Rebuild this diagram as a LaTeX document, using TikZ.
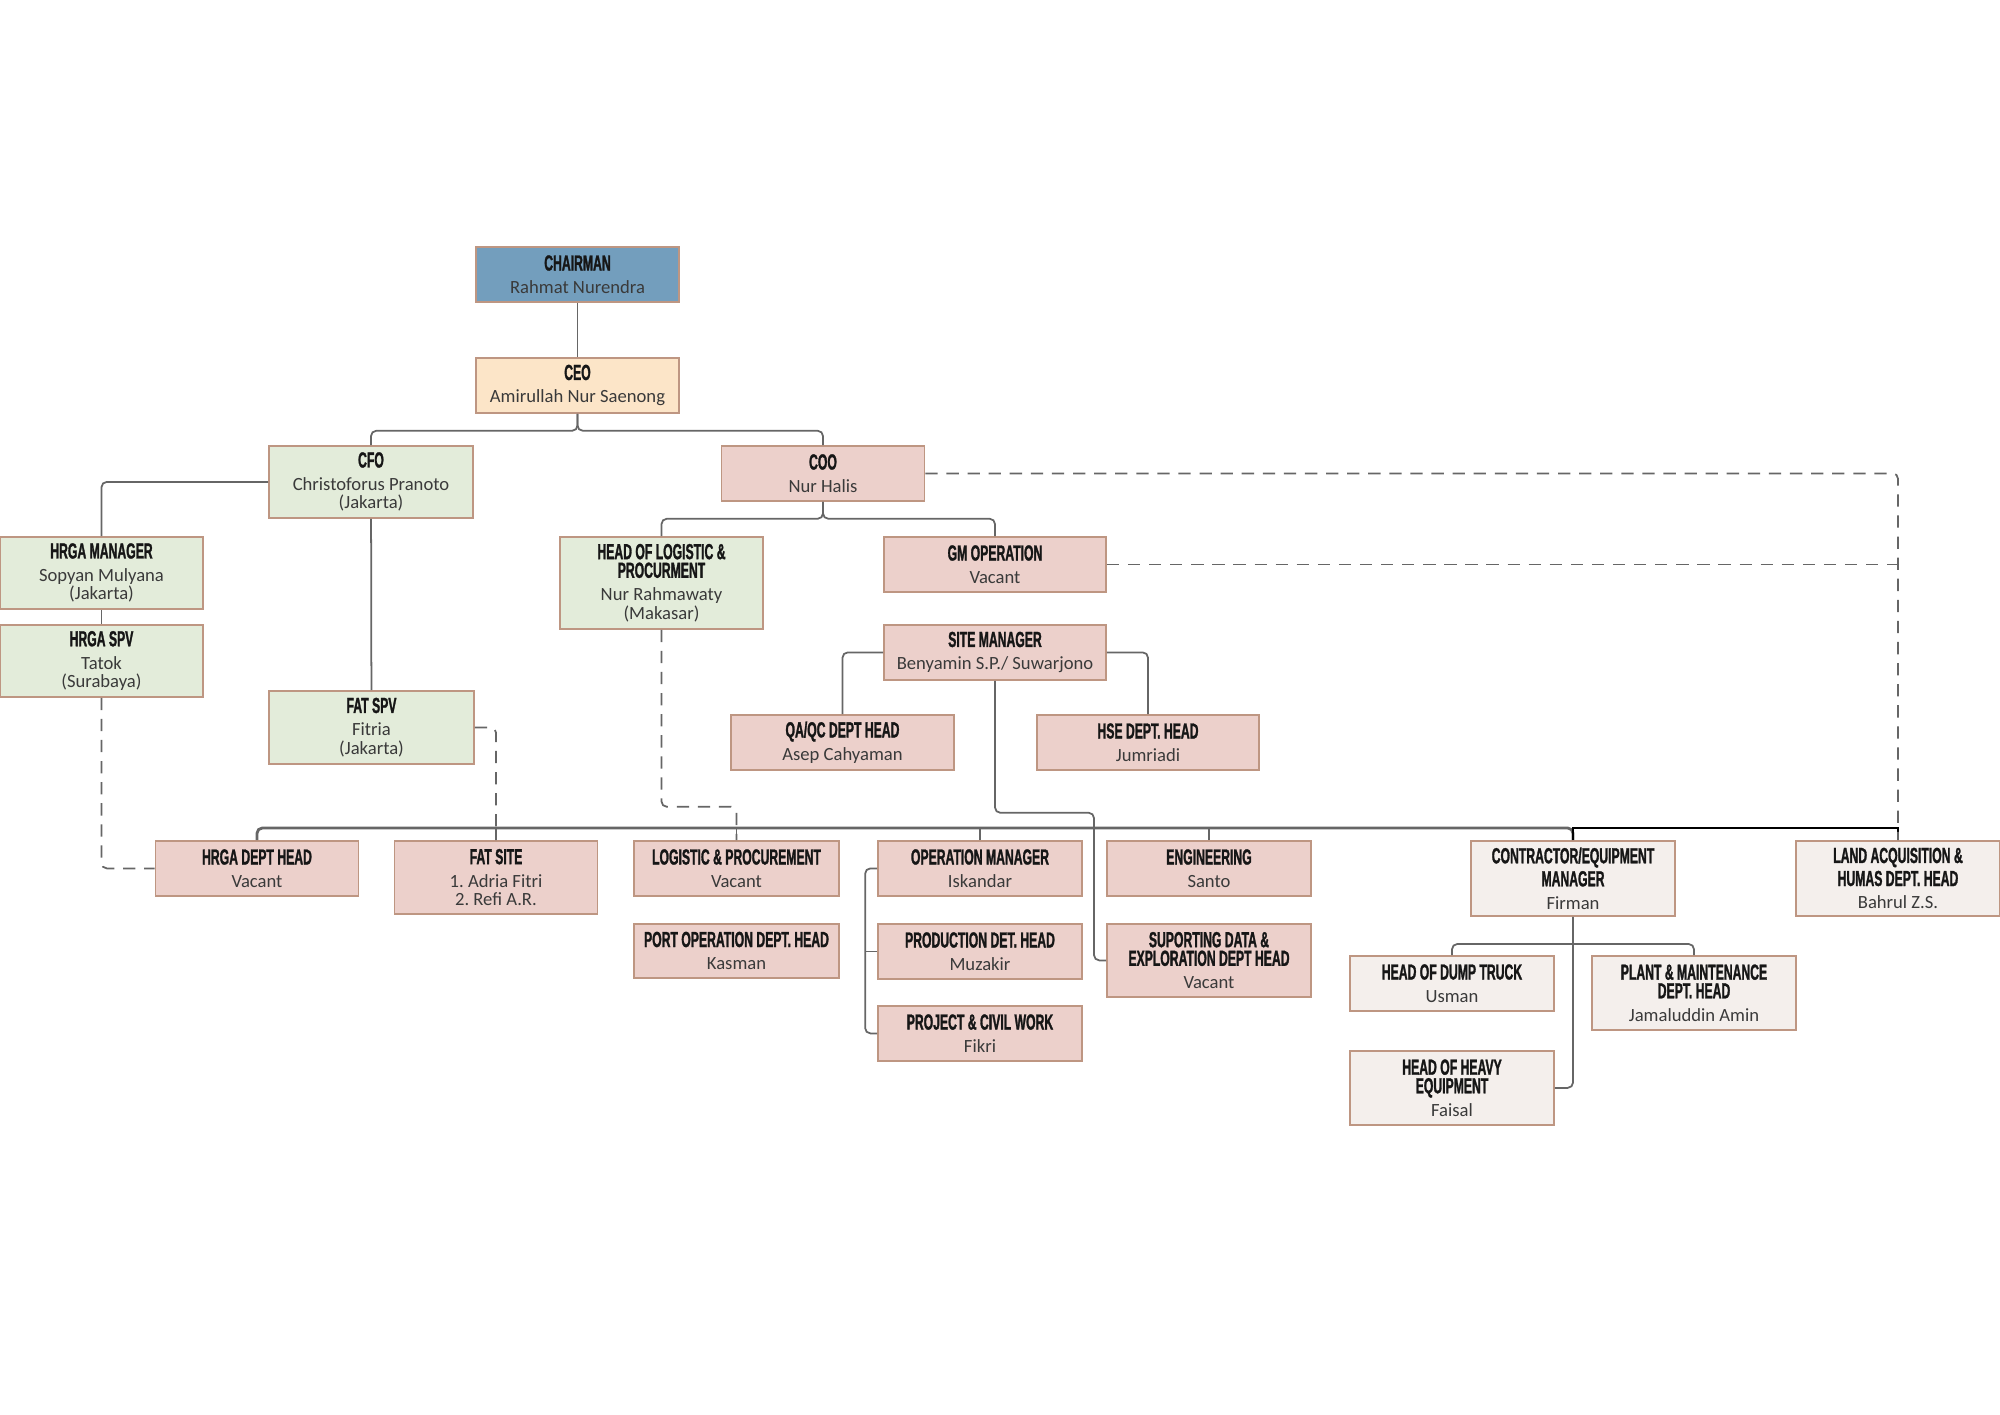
\documentclass[tikz,border=0pt]{standalone}
\usepackage{fontspec}
\setmainfont{Carlito}
\newfontfamily\headfont[FakeStretch=0.56, BoldFeatures={FakeBold=1.3}]{Liberation Sans}
\usetikzlibrary{calc}
\definecolor{chairblue}{HTML}{739EBD}
\definecolor{ceopeach}{HTML}{FCE5C8}
\definecolor{staffgreen}{HTML}{E3ECDA}
\definecolor{opspink}{HTML}{ECD0CB}
\definecolor{contrgrey}{HTML}{F4EFEC}
\definecolor{boxline}{HTML}{BE9682}
\definecolor{linegray}{HTML}{666666}
\definecolor{bodytext}{HTML}{3A3A3A}
\definecolor{titletext}{HTML}{161616}
\newcommand{\ttl}[1]{{\headfont\bfseries\fontsize{6.2}{5.4}\selectfont\color{titletext}#1}}

\begin{document}
\begin{tikzpicture}[
  every node/.style={draw=boxline, line width=0.5pt, align=center, anchor=north, inner sep=1.5pt,
    minimum width=2.03cm, minimum height=0.55cm, text=bodytext, font=\fontsize{5.3}{5.3}\selectfont},
  bluebox/.style={fill=chairblue},
  peachbox/.style={fill=ceopeach},
  greenbox/.style={fill=staffgreen},
  pinkbox/.style={fill=opspink},
  greybox/.style={fill=contrgrey},
  link/.style={draw=linegray, line width=0.5pt, rounded corners=1.5pt},
  dotlink/.style={link, dash pattern=on 3.5pt off 2.5pt},
  bus/.style={link, line width=0.8pt}
]
\useasboundingbox (0,0) rectangle (20,-14.14);

\node[bluebox] (chair) at (5.775,-2.46) {\ttl{CHAIRMAN}\\[1.2pt] Rahmat Nurendra};
\node[peachbox] (ceo) at (5.775,-3.57) {\ttl{CEO}\\[1.2pt] Amirullah Nur Saenong};

\node[greenbox, minimum width=2.04cm, minimum height=0.72cm] (cfo) at (3.71,-4.45) {\ttl{CFO}\\[1.2pt] Christoforus Pranoto\\(Jakarta)};
\node[pinkbox] (coo) at (8.23,-4.45) {\ttl{COO}\\[1.2pt] Nur Halis};

\node[greenbox, minimum height=0.72cm] (hrgam) at (1.015,-5.36) {\ttl{HRGA MANAGER}\\[1.2pt] Sopyan Mulyana\\(Jakarta)};
\node[greenbox, minimum height=0.72cm] (hrgas) at (1.015,-6.24) {\ttl{HRGA SPV}\\[1.2pt] Tatok\\(Surabaya)};
\node[greenbox, minimum width=2.05cm, minimum height=0.73cm] (fatspv) at (3.715,-6.90) {\ttl{FAT SPV}\\[1.2pt] Fitria\\(Jakarta)};
\node[greenbox, minimum height=0.92cm] (headlog) at (6.615,-5.36) {\ttl{HEAD OF LOGISTIC \&}\\\ttl{PROCURMENT}\\[1.2pt] Nur Rahmawaty\\(Makasar)};

\node[pinkbox, minimum width=2.22cm] (gmop) at (9.95,-5.36) {\ttl{GM OPERATION}\\[1.2pt] Vacant};
\node[pinkbox, minimum width=2.22cm] (sitem) at (9.95,-6.24) {\ttl{SITE MANAGER}\\[1.2pt] Benyamin S.P./ Suwarjono};
\node[pinkbox, minimum width=2.23cm] (qaqc) at (8.425,-7.14) {\ttl{QA/QC DEPT HEAD}\\[1.2pt] Asep Cahyaman};
\node[pinkbox, minimum width=2.22cm] (hse) at (11.48,-7.14) {\ttl{HSE DEPT. HEAD}\\[1.2pt] Jumriadi};

\node[pinkbox] (hrgadh) at (2.57,-8.40) {\ttl{HRGA DEPT HEAD}\\[1.2pt] Vacant};
\node[pinkbox, minimum height=0.73cm] (fatsite) at (4.96,-8.40) {\ttl{FAT SITE}\\[1.2pt] 1.\ Adria Fitri\\2.\ Refi A.R.};
\node[pinkbox, minimum width=2.05cm] (logist) at (7.365,-8.40) {\ttl{LOGISTIC \& PROCUREMENT}\\[1.2pt] Vacant};
\node[pinkbox, minimum width=2.05cm, minimum height=0.54cm] (portop) at (7.365,-9.23) {\ttl{PORT OPERATION DEPT. HEAD}\\[1.2pt] Kasman};
\node[pinkbox, minimum width=2.04cm] (opm) at (9.80,-8.40) {\ttl{OPERATION MANAGER}\\[1.2pt] Iskandar};
\node[pinkbox, minimum width=2.04cm] (prod) at (9.80,-9.23) {\ttl{PRODUCTION DET. HEAD}\\[1.2pt] Muzakir};
\node[pinkbox, minimum width=2.04cm] (proj) at (9.80,-10.05) {\ttl{PROJECT \& CIVIL WORK}\\[1.2pt] Fikri};
\node[pinkbox, minimum width=2.04cm] (eng) at (12.09,-8.40) {\ttl{ENGINEERING}\\[1.2pt] Santo};
\node[pinkbox, minimum width=2.04cm, minimum height=0.73cm] (sup) at (12.09,-9.23) {\ttl{SUPORTING DATA \&}\\\ttl{EXPLORATION DEPT HEAD}\\[1.2pt] Vacant};

\node[greybox, minimum width=2.04cm, minimum height=0.75cm] (contr) at (15.73,-8.40) {\ttl{CONTRACTOR/EQUIPMENT}\\\ttl{MANAGER}\\[1.2pt] Firman};
\node[greybox, minimum width=2.04cm, minimum height=0.75cm] (land) at (18.98,-8.40) {\ttl{LAND ACQUISITION \&}\\\ttl{HUMAS DEPT. HEAD}\\[1.2pt] Bahrul Z.S.};
\node[greybox, minimum width=2.04cm] (dump) at (14.52,-9.55) {\ttl{HEAD OF DUMP TRUCK}\\[1.2pt] Usman};
\node[greybox, minimum width=2.04cm, minimum height=0.74cm] (plant) at (16.94,-9.55) {\ttl{PLANT \& MAINTENANCE}\\\ttl{DEPT. HEAD}\\[1.2pt] Jamaluddin Amin};
\node[greybox, minimum width=2.04cm, minimum height=0.74cm] (heavy) at (14.52,-10.50) {\ttl{HEAD OF HEAVY}\\\ttl{EQUIPMENT}\\[1.2pt] Faisal};

\draw[link] (chair) -- (ceo);
\draw[link] (ceo.south) -- ++(0,-0.17) -| (cfo.north);
\draw[link] (ceo.south) -- ++(0,-0.17) -| (coo.north);
\draw[link] (cfo.west) -| (hrgam.north);
\draw[link] (hrgam) -- (hrgas);
\draw[link] (cfo) -- (fatspv);
\draw[link] (coo.south) -- ++(0,-0.17) -| (headlog.north);
\draw[link] (coo.south) -- ++(0,-0.17) -| (gmop.north);
\draw[link] (sitem.west) -| (qaqc.north);
\draw[link] (sitem.east) -| (hse.north);
\draw[link] (sitem.south) -- ++(0,-1.32) -- ++(0.99,0) |- (sup.west);

\draw[bus] (hrgadh.north) -- ++(0,0.12) -| (contr.north);
\draw[bus, draw=black, sharp corners] (contr.north) -- ++(0,0.12) -| (land.north);
\foreach \n in {fatsite,logist,opm,eng}
  \draw[link] (\n.north) -- ++(0,0.12);
\draw[link] (opm.west) -- ++(-0.12,0) |- (proj.west);
\draw[link] (prod.west) -- ++(-0.12,0);
\draw[link] (contr.south) |- (heavy.east);
\draw[link] (dump.north) -- ++(0,0.11) -| (plant.north);

\draw[dotlink] (coo.east) -| (land.north);
\draw[dotlink] (gmop.east) -- (gmop.east -| land.north);
\draw[dotlink] (hrgas.south) |- (hrgadh.west);
\draw[dotlink] (fatspv.east) -| (fatsite.north);
\draw[dotlink] (headlog.south) -- ++(0,-1.77) -| (logist.north);
\end{tikzpicture}
\end{document}
